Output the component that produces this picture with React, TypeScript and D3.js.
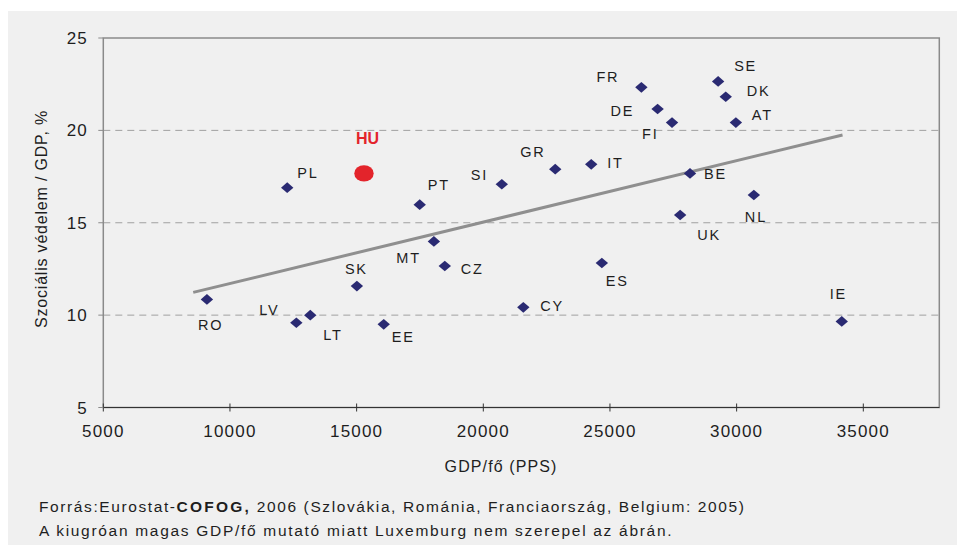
import React from "react";
import * as d3 from "d3";

const countries = ["RO","PL","PT","MT","CZ","SK","LV","LT","EE","SI","GR","IT","FR","DE","FI","SE","DK","AT","BE","NL","UK","ES","CY","IE"];
const gdpValues = [9090,12260,17490,18050,18480,15010,12620,13170,16070,20730,22840,24260,26240,26880,27450,29270,29570,29970,28160,30680,27770,24680,21580,34150];
const socialValues = [10.85,16.9,15.98,13.99,12.66,11.57,9.59,10.0,9.5,17.08,17.9,18.16,22.33,21.16,20.42,22.65,21.82,20.42,17.67,16.5,15.42,12.82,10.42,9.66];
// label anchor offsets (layout)
const labelDx = [-9,10,8,-13,16,-12,-37,13,8,-31,-35,16,-45,-47,-30,16,21,16,14,-9,17,4,17,-12];
const labelDy = [31,-10,-15,22,8,-12,-8,25,18,-4,-12,4,-5,7,16,-10,-1,-3,6,27,25,23,4,-22];
const labelAnchor = ["start","start","start","end","start","start","start","start","start","start","start","start","start","start","start","start","start","start","start","start","start","start","start","start"];

const huGdp = 15290;
const huSocial = 17.67;

const trendGdp = [8550, 34180];
const trendSocial = [11.23, 19.75];

const xTicks = [5000,10000,15000,20000,25000,30000,35000];
const yTicks = [5,10,15,20,25];
const yGrid = [10,15,20];

const font = "'Liberation Sans', Arial, sans-serif";
const textColor = "#1e1e1e";
const navy = "#2a2a72";

export default function App() {
  const left = 103.3, right = 939.3, top = 38, bottom = 407.5;
  const x = d3.scaleLinear().domain([5000, 38000]).range([left, right]);
  const y = d3.scaleLinear().domain([5, 25]).range([bottom, top]);
  const line = d3.line<number>().x((_, i) => x(trendGdp[i])).y((d) => y(d));

  return (
    <div style={{ position: "absolute", left: 0, top: 0 }}>
      <svg width={957} height={545} style={{ display: "block", fontFamily: font }}>
        <rect x={0} y={0} width={957} height={545} fill="#ffffff" />
        <rect x={8} y={11} width={949} height={534} fill="#f0f0f0" />
        {/* grid */}
        {yGrid.map((v) => (
          <line key={v} x1={left} x2={right} y1={y(v)} y2={y(v)} stroke="#a0a0a0" strokeWidth={1} strokeDasharray="7,5" />
        ))}
        {/* plot border */}
        <rect x={left} y={top} width={right - left} height={bottom - top} fill="none" stroke="#8a8a8a" strokeWidth={1.5} />
        {/* x axis */}
        <line x1={left} x2={right} y1={bottom} y2={bottom} stroke="#333" strokeWidth={1.2} />
        {xTicks.map((t) => (
          <g key={t}>
            <line x1={x(t)} x2={x(t)} y1={bottom - 4} y2={bottom + 4} stroke="#333" strokeWidth={1} />
            <text x={x(t)} y={437} textAnchor="middle" fontSize={17} fill={textColor} letterSpacing={1.2}>{t}</text>
          </g>
        ))}
        {/* y axis */}
        {yTicks.map((t) => (
          <g key={t}>
            <line x1={left - 5} x2={left} y1={y(t)} y2={y(t)} stroke="#8a8a8a" strokeWidth={1} />
            <text x={88} y={y(t)} dy="0.36em" textAnchor="end" fontSize={17} fill={textColor} letterSpacing={1.2}>{t}</text>
          </g>
        ))}
        {/* axis titles */}
        <text transform={`translate(47,219) rotate(-90)`} textAnchor="middle" fontSize={16} fill={textColor} letterSpacing={0.8}>Szociális védelem / GDP, %</text>
        <text x={501} y={472} textAnchor="middle" fontSize={16} fill={textColor} letterSpacing={1.1}>GDP/fő (PPS)</text>
        {/* trend line */}
        <path d={line(trendSocial) || ""} fill="none" stroke="#8f8f8f" strokeWidth={3} />
        {/* points */}
        {countries.map((c, i) => {
          const cx = x(gdpValues[i]);
          const cy = y(socialValues[i]);
          return (
            <g key={c}>
              <path d={`M${cx},${cy - 5.3}L${cx + 6.2},${cy}L${cx},${cy + 5.3}L${cx - 6.2},${cy}Z`} fill={navy} />
              <text x={cx + labelDx[i]} y={cy + labelDy[i]} textAnchor={labelAnchor[i]} fontSize={14.5} fill={textColor} letterSpacing={1.8}>{c}</text>
            </g>
          );
        })}
        {/* HU */}
        <ellipse cx={x(huGdp)} cy={y(huSocial)} rx={9.7} ry={8.2} fill="#e3242b" />
        <text x={x(huGdp) + 3.5} y={y(huSocial) - 29} textAnchor="middle" fontSize={16} fontWeight="bold" fill="#e3242b">HU</text>
        {/* footnote */}
        <text x={39} y={512} fontSize={15.5} fill={textColor} letterSpacing={1.6}>
          Forrás:Eurostat-<tspan fontWeight="bold" letterSpacing={2.2}>COFOG,</tspan> 2006 (Szlovákia, Románia, Franciaország, Belgium: 2005)
        </text>
        <text x={39} y={536} fontSize={15.5} fill={textColor} letterSpacing={1.7}>A kiugróan magas GDP/fő mutató miatt Luxemburg nem szerepel az ábrán.</text>
      </svg>
    </div>
  );
}
